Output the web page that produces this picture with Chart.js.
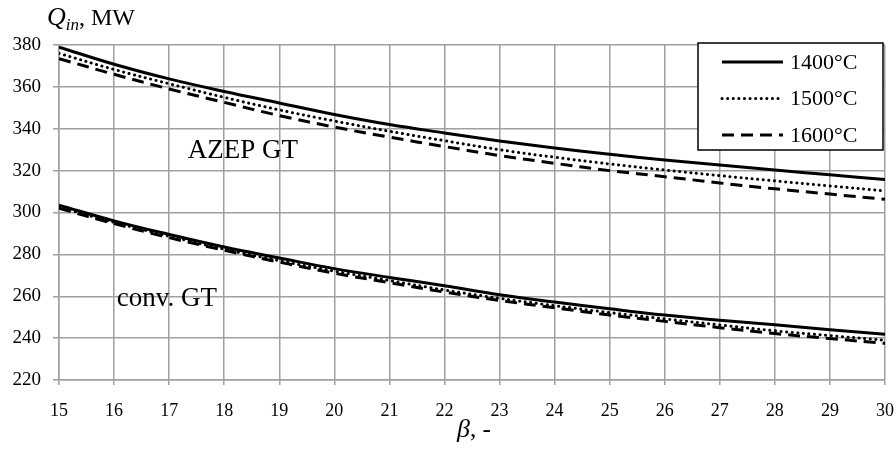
<!DOCTYPE html>
<html>
<head>
<meta charset="utf-8">
<script src="https://cdn.jsdelivr.net/npm/chart.js@4/dist/chart.umd.min.js"></script>
<style>
  html, body { margin: 0; padding: 0; background: #fff; }
  #wrap { width: 896px; height: 450px; }
</style>
</head>
<body>
<div id="wrap"><canvas id="chart"></canvas></div>
<script>
// pressure ratio beta
const beta = [15, 16, 17, 18, 19, 20, 21, 22, 23, 24, 25, 26, 27, 28, 29, 30];

// AZEP GT heat input, MW
const azep1400 = [379, 370.8, 363.8, 357.8, 352.3, 346.8, 342, 338, 334.2, 330.8, 327.8, 325.1, 322.7, 320.3, 318, 315.8];
const azep1500 = [376, 368.3, 361.5, 355, 349, 343.7, 338.8, 334.3, 330, 326.4, 323.2, 320.3, 317.6, 315.1, 312.7, 310.3];
const azep1600 = [373.5, 366, 359, 352.6, 346.3, 340.8, 336, 331.5, 327.2, 323.5, 320, 317.1, 314.1, 311.3, 308.8, 306.3];

// conventional GT heat input, MW
const conv1400 = [303.5, 296, 289.5, 283.5, 278.3, 273.2, 269, 265, 260.7, 257.2, 254, 251, 248.5, 246.4, 244, 241.8];
const conv1500 = [302.5, 295.3, 288.7, 282.5, 277, 272, 267.5, 263, 259, 255.5, 252.2, 249.2, 246.3, 243.5, 241.2, 239];
const conv1600 = [302, 294.7, 288, 282, 276.3, 271, 266.5, 262, 258, 254.5, 251, 248, 245, 242.2, 239.8, 237.5];

const legendLabels = ['1400°C', '1500°C', '1600°C'];
const xTicks = { min: 15, max: 30, step: 1 };
const yTicks = { min: 220, max: 380, step: 20 };

const serif = '"Liberation Serif", "DejaVu Serif", serif';

const styles = [
    { borderDash: [], borderCapStyle: 'butt' },
    { borderDash: [0.1, 5.5], borderCapStyle: 'round' },
    { borderDash: [12, 7], borderCapStyle: 'butt' }
];

function series(values, idx, label) {
    return {
        label: label,
        data: beta.map((b, i) => ({ x: b, y: values[i] })),
        borderColor: '#000',
        borderWidth: 3,
        borderDash: styles[idx].borderDash,
        borderCapStyle: styles[idx].borderCapStyle,
        pointRadius: 0,
        tension: 0.4,
        fill: false
    };
}

// draws the text labels and the boxed legend
const annotations = {
    id: 'annotations',
    afterDraw(chart) {
        const ctx = chart.ctx;
        const xs = chart.scales.x;
        const ys = chart.scales.y;
        ctx.save();
        ctx.fillStyle = '#000';
        ctx.textBaseline = 'alphabetic';

        // y axis title: Q_in, MW
        ctx.font = 'italic 26px ' + serif;
        ctx.fillText('Q', 47, 25);
        let qx = 47 + ctx.measureText('Q').width;
        ctx.font = 'italic 17px ' + serif;
        ctx.fillText('in', qx, 30);
        qx += ctx.measureText('in').width;
        ctx.font = '24px ' + serif;
        ctx.fillText(', MW', qx, 25);

        // x axis title: beta, -
        ctx.font = 'italic 26px ' + serif;
        ctx.fillText('β', 457, 437);
        let bx = 457 + ctx.measureText('β').width;
        ctx.font = '25px ' + serif;
        ctx.fillText(', -', bx, 437);

        // curve group labels
        ctx.font = '27px ' + serif;
        ctx.fillText('AZEP GT', xs.getPixelForValue(17.34), ys.getPixelForValue(326));
        ctx.fillText('conv. GT', xs.getPixelForValue(16.05), ys.getPixelForValue(255.5));

        // legend box
        const lx = 698, ly = 43, lw = 185, lh = 107;
        ctx.fillStyle = '#fff';
        ctx.fillRect(lx, ly, lw, lh);
        ctx.strokeStyle = '#000';
        ctx.lineWidth = 1.5;
        ctx.strokeRect(lx, ly, lw, lh);

        ctx.font = '22px ' + serif;
        ctx.textBaseline = 'middle';
        legendLabels.forEach((label, i) => {
            const y = ly + 19 + i * 36.5;
            ctx.beginPath();
            ctx.setLineDash(styles[i].borderDash);
            ctx.lineCap = styles[i].borderCapStyle;
            ctx.lineWidth = 3;
            ctx.moveTo(722, y);
            ctx.lineTo(783, y);
            ctx.stroke();
            ctx.setLineDash([]);
            ctx.fillStyle = '#000';
            ctx.fillText(label, 790, y + 1);
        });
        ctx.restore();
    }
};

new Chart(document.getElementById('chart'), {
    type: 'line',
    data: {
        datasets: [
            series(azep1400, 0, 'AZEP 1400'),
            series(azep1500, 1, 'AZEP 1500'),
            series(azep1600, 2, 'AZEP 1600'),
            series(conv1400, 0, 'conv 1400'),
            series(conv1500, 1, 'conv 1500'),
            series(conv1600, 2, 'conv 1600')
        ]
    },
    options: {
        responsive: true,
        maintainAspectRatio: false,
        animation: false,
        layout: {
            padding: { left: 0, right: 11, top: 45, bottom: 0 }
        },
        scales: {
            x: {
                type: 'linear',
                min: xTicks.min,
                max: xTicks.max,
                afterFit: s => {
                    s.height = 70;
                    s.paddingLeft = 0;
                    s.paddingRight = 0;
                },
                ticks: {
                    stepSize: xTicks.step,
                    color: '#000',
                    padding: 15,
                    maxRotation: 0,
                    font: { family: serif, size: 18 }
                },
                grid: { color: '#a0a0a0', lineWidth: 1.5, tickLength: 5 },
                border: { color: '#a0a0a0', width: 1.5 }
            },
            y: {
                min: yTicks.min,
                max: yTicks.max,
                afterFit: s => {
                    s.width = 59;
                    s.paddingTop = 0;
                    s.paddingBottom = 0;
                },
                ticks: {
                    stepSize: yTicks.step,
                    color: '#000',
                    padding: 12,
                    font: { family: serif, size: 19 }
                },
                grid: { color: '#a0a0a0', lineWidth: 1.5, tickLength: 6 },
                border: { color: '#a0a0a0', width: 1.5 }
            }
        },
        plugins: {
            legend: { display: false },
            tooltip: { enabled: false }
        }
    },
    plugins: [annotations]
});
</script>
</body>
</html>
